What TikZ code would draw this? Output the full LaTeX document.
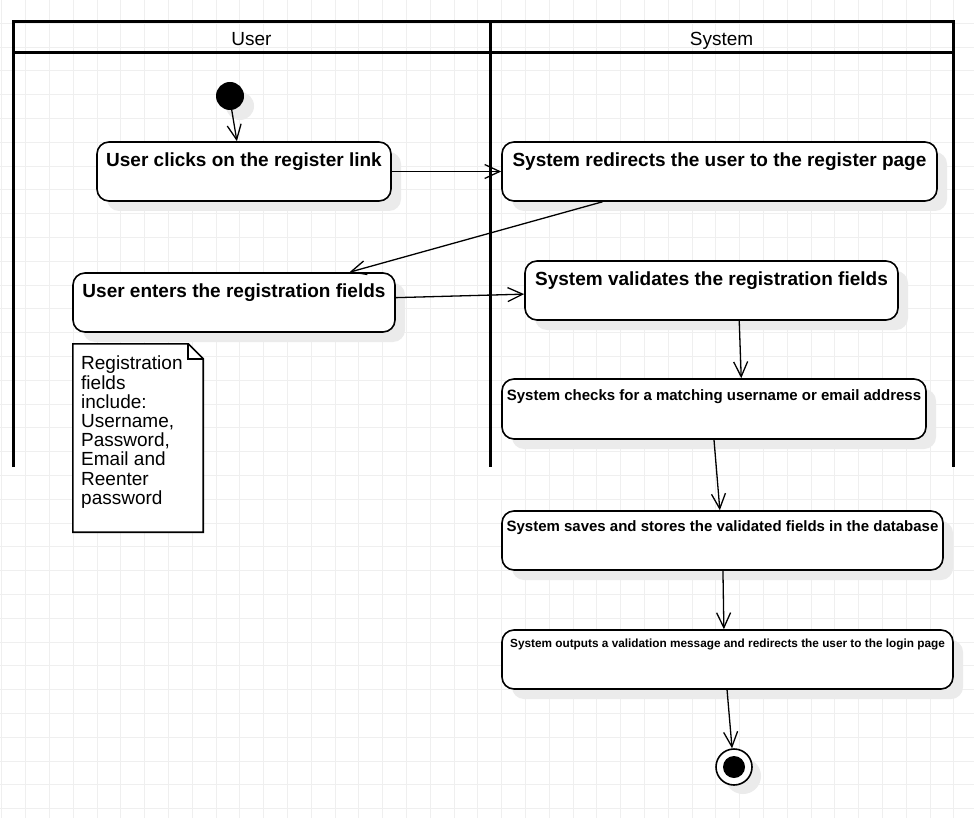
\documentclass[tikz,border=0pt]{standalone}
\usepackage{fontspec}
\setmainfont{Liberation Sans}
\usetikzlibrary{arrows.meta,calc,shadows}
\definecolor{gridc}{HTML}{EFEFEF}
\definecolor{shadc}{HTML}{EBEBEB}
\begin{document}
\begin{tikzpicture}[x=1pt,y=-1pt,
  gridline/.style={draw=gridc, line width=0.9pt},
  lane/.style={line width=3pt, line join=miter},
  act/.style={draw, line width=1.6pt, fill=white, rounded corners=12pt, inner sep=0pt,
    general shadow={fill=shadc, shadow xshift=10pt, shadow yshift=-10pt}},
  acttext/.style={anchor=base, inner sep=0pt, font=\bfseries\fontsize{#1}{#1}\selectfont},
  flow/.style={line width=1.3pt, -{Straight Barb[length=15pt,width=14pt]}},
  head/.style={anchor=base, inner sep=0pt, font=\fontsize{19}{23}\selectfont}]
\useasboundingbox (0,0) rectangle (974,818);
\fill[white] (0,0) rectangle (974,818);
% grid
\foreach \i in {0,...,41} {\draw[gridline] (1.9+\i*23.8,0) -- (1.9+\i*23.8,818);}
\foreach \j in {0,...,35} {\draw[gridline] (0,-0.6+\j*23.8) -- (974,-0.6+\j*23.8);}
% swimlanes
\draw[lane] (13,467) -- (13,22) -- (953,22) -- (953,467);
\draw[lane] (13,53) -- (953,53);
\draw[lane] (490,22) -- (490,467);
\node[head] (hu) at (251.5,46) {User};
\node[head] (hs) at (721.5,46) {System};
% start / end
\node[circle, fill=black, minimum size=28pt, inner sep=0pt,
  general shadow={fill=shadc, shadow xshift=10pt, shadow yshift=-10pt}] (st) at (230,96) {};
\node[circle, draw, line width=1.6pt, fill=white, minimum size=36pt, inner sep=0pt,
  general shadow={fill=shadc, shadow xshift=9pt, shadow yshift=-9pt}] (en) at (734,767) {};
\node[circle, fill=black, minimum size=22pt, inner sep=0pt] (enin) at (en) {};
% activities
\node[act, minimum width=294pt, minimum height=59pt] (b1) at (244,171.5) {};
\node[act, minimum width=435pt, minimum height=59pt] (b2) at (719.5,171.5) {};
\node[act, minimum width=322pt, minimum height=59pt] (b3) at (234,302.5) {};
\node[act, minimum width=373pt, minimum height=59pt] (b4) at (711.5,290.5) {};
\node[act, minimum width=424pt, minimum height=60pt] (b5) at (714,409) {};
\node[act, minimum width=441pt, minimum height=59pt] (b6) at (722.5,540.5) {};
\node[act, minimum width=451pt, minimum height=59pt] (b7) at (727.5,659.5) {};
\node[acttext=19] (t1) at ($(b1.north)+(0,25)$) {User clicks on the register link};
\node[acttext=19] (t2) at ($(b2.north)+(0,25)$) {System redirects the user to the register page};
\node[acttext=19] (t3) at ($(b3.north)+(0,25)$) {User enters the registration fields};
\node[acttext=19] (t4) at ($(b4.north)+(0,25)$) {System validates the registration fields};
\node[acttext=15] (t5) at ($(b5.north)+(0,22)$) {System checks for a matching username or email address};
\node[acttext=15] (t6) at ($(b6.north)+(0,21)$) {System saves and stores the validated fields in the database};
\node[acttext=11.8] (t7) at ($(b7.north)+(0,18)$) {System outputs a validation message and redirects the user to the login page};
% note
\node[minimum width=130pt, minimum height=188pt, inner sep=0pt] (nt) at (138,438) {};
\draw[line width=1.6pt, fill=white] (nt.south west) -- (nt.north west) -- ($(nt.north east)+(-15,0)$)
  -- ($(nt.north east)+(0,15)$) -- (nt.south east) -- cycle;
\draw[line width=1.6pt] ($(nt.north east)+(-15,0)$) -- ($(nt.north east)+(-15,15)$) -- ($(nt.north east)+(0,15)$);
\node[anchor=north west, align=left, inner sep=0pt, font=\fontsize{19}{19.2}\selectfont] (ntx) at (81,356)
  {Registration\\fields\\include:\\Username,\\Password,\\Email and\\Reenter\\password};
% flows
\draw[flow] (st.-83) -- ($(b1.north west)!0.476!(b1.north east)$);
\draw[flow] (b1.east) -- (b2.west);
\draw[flow] ($(b2.south west)!0.232!(b2.south east)$) -- ($(b3.north west)!0.857!(b3.north east)$);
\draw[flow] ($(b3.north east)!0.42!(b3.south east)$) -- ($(b4.north west)!0.56!(b4.south west)$);
\draw[flow] ($(b4.south west)!0.574!(b4.south east)$) -- ($(b5.north west)!0.564!(b5.north east)$);
\draw[flow] ($(b5.south west)!0.5!(b5.south east)$) -- ($(b6.north west)!0.494!(b6.north east)$);
\draw[flow] ($(b6.south west)!0.501!(b6.south east)$) -- ($(b7.north west)!0.492!(b7.north east)$);
\draw[flow] ($(b7.south west)!0.499!(b7.south east)$) -- (en.96);
\end{tikzpicture}
\end{document}
